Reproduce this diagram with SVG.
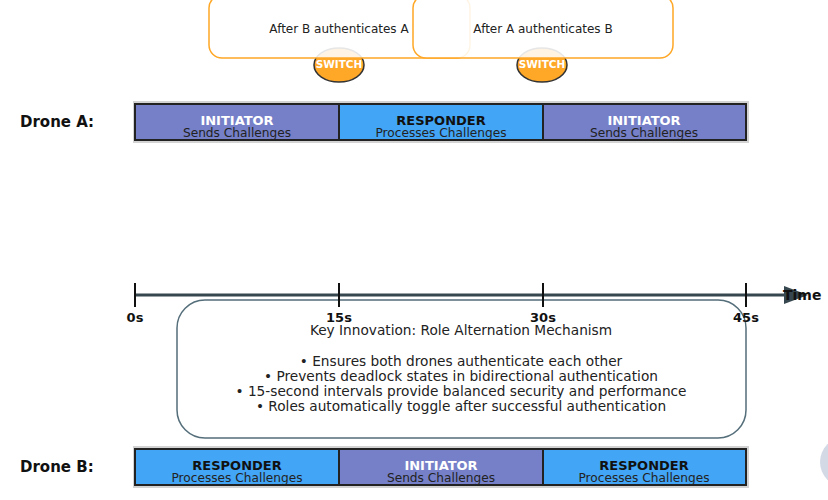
<svg xmlns="http://www.w3.org/2000/svg" width="828" height="500" viewBox="0 0 828 500">
<defs>
<style>
text{font-family:"DejaVu Sans","Liberation Sans",sans-serif;}
.lbl{font-size:15px;font-weight:bold;fill:#111;}
.role{font-size:13px;font-weight:bold;text-anchor:middle;}
.sub{font-size:12.2px;fill:#222;text-anchor:middle;}
.ini{fill:#7580C8;stroke:#222;stroke-width:2;}
.res{fill:#42A5F5;stroke:#222;stroke-width:2;}
.shadow{fill:#c8c8c8;opacity:0.8;}
.tick{stroke:#111;stroke-width:2;}
.tl{font-size:13px;font-weight:bold;fill:#111;text-anchor:middle;}
.note{font-size:13.7px;fill:#222;text-anchor:middle;}
.ebox{fill:#fff;fill-opacity:0.88;stroke:#FFA726;stroke-width:1.5;}
.sw{fill:#FFA726;stroke:#333;stroke-width:1.5;}
.swt{font-size:10.5px;font-weight:bold;fill:#fff;text-anchor:middle;}
.et{font-size:12px;fill:#222;text-anchor:middle;}
</style>
<marker id="arr" markerWidth="8" markerHeight="6" refX="7" refY="3" orient="auto" markerUnits="strokeWidth">
<path d="M0,0 L8,3 L0,6 z" fill="#37474F"/>
</marker>
</defs>
<rect width="828" height="500" fill="#fff"/>
<circle cx="845" cy="462" r="25" fill="#D3DAE6"/>

<g id="events">
<ellipse class="sw" cx="339" cy="65" rx="25" ry="17"/>
<ellipse class="sw" cx="542" cy="65" rx="25" ry="17"/>
<rect class="ebox" x="209" y="-5" width="261" height="63" rx="13"/>
<rect class="ebox" x="413" y="-5" width="260" height="63" rx="13"/>
<text class="et" x="339" y="33">After B authenticates A</text>
<text class="et" x="543" y="33">After A authenticates B</text>
<text class="swt" x="339" y="68">SWITCH</text>
<text class="swt" x="542" y="68">SWITCH</text>
</g>

<g id="droneA">
<text class="lbl" x="20" y="127">Drone A:</text>
<rect class="shadow" x="133" y="101" width="616" height="42"/>
<rect class="ini" x="135" y="104" width="204" height="36"/>
<rect class="res" x="339" y="104" width="204" height="36"/>
<rect class="ini" x="543" y="104" width="203" height="36"/>
<text class="role" x="237" y="125" fill="#fff">INITIATOR</text>
<text class="sub" x="237" y="137">Sends Challenges</text>
<text class="role" x="441" y="125" fill="#111">RESPONDER</text>
<text class="sub" x="441" y="137">Processes Challenges</text>
<text class="role" x="644" y="125" fill="#fff">INITIATOR</text>
<text class="sub" x="644" y="137">Sends Challenges</text>
</g>

<g id="note">
<rect x="177" y="300" width="569" height="138" rx="28" fill="#fff" fill-opacity="0.6" stroke="#546E7A" stroke-width="1.5"/>
<text class="note" x="461" y="335">Key Innovation: Role Alternation Mechanism</text>
<text class="note" x="461" y="366">• Ensures both drones authenticate each other</text>
<text class="note" x="461" y="381">• Prevents deadlock states in bidirectional authentication</text>
<text class="note" x="461" y="396">• 15-second intervals provide balanced security and performance</text>
<text class="note" x="461" y="411">• Roles automatically toggle after successful authentication</text>
</g>

<g id="connectors">
<line x1="135" y1="295" x2="805" y2="295" stroke="#37474F" stroke-width="3" marker-end="url(#arr)"/>
<line class="tick" x1="135" y1="283" x2="135" y2="307"/>
<line class="tick" x1="339" y1="283" x2="339" y2="307"/>
<line class="tick" x1="543" y1="283" x2="543" y2="307"/>
<line class="tick" x1="746" y1="283" x2="746" y2="307"/>
</g>

<g id="timeline">
<text x="783" y="300" font-size="14" font-weight="bold" fill="#111">Time</text>
<text class="tl" x="135" y="322">0s</text>
<text class="tl" x="339" y="322">15s</text>
<text class="tl" x="543" y="322">30s</text>
<text class="tl" x="746" y="322">45s</text>
</g>

<g id="droneB">
<text class="lbl" x="20" y="472">Drone B:</text>
<rect class="shadow" x="133" y="446" width="616" height="42"/>
<rect class="res" x="135" y="449" width="204" height="36"/>
<rect class="ini" x="339" y="449" width="204" height="36"/>
<rect class="res" x="543" y="449" width="203" height="36"/>
<text class="role" x="237" y="470" fill="#111">RESPONDER</text>
<text class="sub" x="237" y="482">Processes Challenges</text>
<text class="role" x="441" y="470" fill="#fff">INITIATOR</text>
<text class="sub" x="441" y="482">Sends Challenges</text>
<text class="role" x="644" y="470" fill="#111">RESPONDER</text>
<text class="sub" x="644" y="482">Processes Challenges</text>
</g>
</svg>
